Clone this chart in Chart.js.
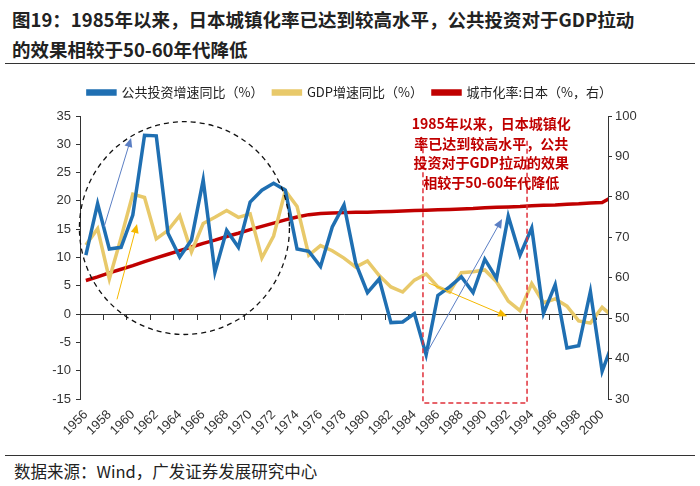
<!DOCTYPE html>
<html>
<head>
<meta charset="utf-8">
<script src="https://cdn.jsdelivr.net/npm/chart.js@4.4.0/dist/chart.umd.min.js"></script>
<style>
  body { margin: 0; width: 700px; height: 486px; background: #fff; position: relative; overflow: hidden;
         font-family: "Noto Sans CJK SC", sans-serif; }
  #title { position: absolute; left: 12px; top: 4px; font-size: 18.5px; font-weight: bold; line-height: 30px; color: #222; }
  .rule { position: absolute; left: 5px; width: 690px; height: 0; border-top: 1.5px solid #333; }
  #box { position: absolute; left: 0; top: 70px; width: 700px; height: 372px; }
  #source { position: absolute; left: 14px; top: 459px; font-size: 16.5px; color: #222; }
</style>
</head>
<body>
<div id="title">图19：1985年以来，日本城镇化率已达到较高水平，公共投资对于GDP拉动<br>的效果相较于50-60年代降低</div>
<div class="rule" style="top:63px"></div>
<div id="box"><canvas id="chart" width="700" height="372"></canvas></div>
<div class="rule" style="top:455px"></div>
<div id="source">数据来源：Wind，广发证券发展研究中心</div>

<script>
const years = [1956, 1957, 1958, 1959, 1960, 1961, 1962, 1963, 1964, 1965,
  1966, 1967, 1968, 1969, 1970, 1971, 1972, 1973, 1974, 1975,
  1976, 1977, 1978, 1979, 1980, 1981, 1982, 1983, 1984, 1985,
  1986, 1987, 1988, 1989, 1990, 1991, 1992, 1993, 1994, 1995,
  1996, 1997, 1998, 1999, 2000, 2001];

// 公共投资增速同比（%）
const investGrowth = [10.4, 19.5, 11.5, 11.8, 17.5, 31.6, 31.5, 14.3, 10.1, 13.1,
  23.7, 7.4, 14.8, 11.8, 19.8, 21.9, 23.1, 21.9, 11.5, 11.1,
  8.4, 15.4, 19.3, 9.0, 3.8, 6.2, -1.5, -1.4, 0.1, -7.2,
  3.3, 4.8, 6.6, 3.8, 9.7, 6.3, 17.3, 10.4, 15.2, 0.1,
  5.2, -6.0, -5.6, 4.0, -10.1, -4.5];

// GDP增速同比（%）
const gdpGrowth = [12.2, 15.1, 6.2, 13.5, 21.2, 20.6, 13.3, 14.8, 17.4, 11.0,
  16.0, 17.1, 18.3, 17.1, 17.7, 9.9, 13.8, 21.8, 19.0, 10.4,
  12.1, 11.2, 9.9, 8.3, 9.4, 6.8, 4.8, 3.9, 6.0, 7.1,
  4.8, 3.9, 7.3, 7.5, 7.8, 5.7, 2.3, 0.6, 5.4, 2.0,
  2.7, 1.4, -1.2, -1.6, 1.2, -0.6];

// 城市化率:日本（%，右）
const urbanRate = [59.3, 60.2, 61.2, 62.1, 63.0, 64.0, 64.9, 65.8, 66.7, 67.6,
  68.5, 69.3, 70.2, 71.0, 71.9, 72.7, 73.5, 74.3, 75.0, 75.6,
  75.9, 76.0, 76.1, 76.2, 76.2, 76.3, 76.4, 76.5, 76.6, 76.7,
  76.8, 76.9, 77.0, 77.1, 77.3, 77.4, 77.5, 77.6, 77.8, 77.9,
  78.0, 78.2, 78.3, 78.5, 78.6, 80.2];

const xTickYears = [1956, 1958, 1960, 1962, 1964, 1966, 1968, 1970, 1972, 1974, 1976,
  1978, 1980, 1982, 1984, 1986, 1988, 1990, 1992, 1994, 1996, 1998, 2000];
const leftTicks = [-15, -10, -5, 0, 5, 10, 15, 20, 25, 30, 35];
const rightTicks = [30, 40, 50, 60, 70, 80, 90, 100];

const noteLines = ["1985年以来，日本城镇化", "率已达到较高水平，公共", "投资对于GDP拉动的效果", "相较于50-60年代降低"];

const blue = "#1f6fb2";
const gold = "#e8c96a";
const red = "#c00000";
const tickFont = { family: "'Liberation Sans', Arial, sans-serif", size: 13 };

function points(vals) {
  return years.map((yr, i) => ({ x: yr, y: vals[i] }));
}

function arrow(ctx, x1, y1, x2, y2, color) {
  const a = Math.atan2(y2 - y1, x2 - x1);
  ctx.strokeStyle = color;
  ctx.fillStyle = color;
  ctx.lineWidth = 1;
  ctx.setLineDash([]);
  ctx.beginPath();
  ctx.moveTo(x1, y1);
  ctx.lineTo(x2 - 6 * Math.cos(a), y2 - 6 * Math.sin(a));
  ctx.stroke();
  ctx.beginPath();
  ctx.moveTo(x2, y2);
  ctx.lineTo(x2 - 9 * Math.cos(a) + 4 * Math.sin(a), y2 - 9 * Math.sin(a) - 4 * Math.cos(a));
  ctx.lineTo(x2 - 9 * Math.cos(a) - 4 * Math.sin(a), y2 - 9 * Math.sin(a) + 4 * Math.cos(a));
  ctx.closePath();
  ctx.fill();
}

// a little more room under the legend
const legendGap = {
  id: "legendGap",
  beforeInit(chart) {
    const fit = chart.legend.fit;
    chart.legend.fit = function () {
      fit.bind(chart.legend)();
      this.height += 7;
    };
  }
};

// circle, dashed box, arrows and the red note
const annotate = {
  id: "annotate",
  afterDatasetsDraw(chart) {
    const ctx = chart.ctx;
    const x = chart.scales.x;
    const y = chart.scales.y;
    ctx.save();

    // dashed circle round the 1956-1973 years
    const cx = x.getPixelForValue(1964.4), cy = y.getPixelForValue(15.2);
    const rx = x.getPixelForValue(1964.4 + 8.95) - cx;
    const ry = cy - y.getPixelForValue(15.2 + 18.8);
    ctx.strokeStyle = "#111";
    ctx.lineWidth = 1.3;
    ctx.setLineDash([5, 4]);
    ctx.beginPath();
    ctx.ellipse(cx, cy, rx, ry, 0, 0, Math.PI * 2);
    ctx.stroke();

    // dashed red box 1985-1993
    const bl = x.getPixelForValue(1984.73), br = x.getPixelForValue(1993.6);
    const bt = y.getPixelForValue(30.7), bb = y.getPixelForValue(-15.7);
    ctx.strokeStyle = "#e0303a";
    ctx.lineWidth = 1.5;
    ctx.setLineDash([5, 3]);
    ctx.beginPath();
    ctx.moveTo(bl, bt);
    ctx.lineTo(bl, bb);
    ctx.lineTo(br, bb);
    ctx.lineTo(br, bt);
    ctx.stroke();

    arrow(ctx, x.getPixelForValue(1957.55), y.getPixelForValue(15.4), x.getPixelForValue(1959.85), y.getPixelForValue(31.1), "#5b7fc4");
    arrow(ctx, x.getPixelForValue(1958.65), y.getPixelForValue(2.6), x.getPixelForValue(1960.36), y.getPixelForValue(15.9), "#f5b800");
    arrow(ctx, x.getPixelForValue(1985.1), y.getPixelForValue(-6.7), x.getPixelForValue(1991.47), y.getPixelForValue(16.8), "#5b7fc4");
    arrow(ctx, x.getPixelForValue(1985.2), y.getPixelForValue(5.5), x.getPixelForValue(1991.9), y.getPixelForValue(-0.4), "#f5b800");

    ctx.fillStyle = red;
    ctx.font = "bold 14px 'Noto Sans CJK SC', sans-serif";
    ctx.textAlign = "center";
    ctx.textBaseline = "middle";
    const tx = x.getPixelForValue(1990.55);
    for (let i = 0; i < noteLines.length; i++) {
      ctx.fillText(noteLines[i], tx, y.getPixelForValue(33.6) + i * 19.6);
    }
    ctx.restore();
  }
};

new Chart("chart", {
  type: "line",
  data: {
    datasets: [
      { label: "公共投资增速同比（%）", data: points(investGrowth), borderColor: blue, backgroundColor: blue,
        borderWidth: 3.5, pointRadius: 0, yAxisID: "y", xAxisID: "x" },
      { label: "GDP增速同比（%）", data: points(gdpGrowth), borderColor: gold, backgroundColor: gold,
        borderWidth: 3.5, pointRadius: 0, yAxisID: "y", xAxisID: "x" },
      { label: "城市化率:日本（%，右）", data: points(urbanRate), borderColor: red, backgroundColor: red,
        borderWidth: 3.5, pointRadius: 0, yAxisID: "y1", xAxisID: "x" }
    ]
  },
  options: {
    responsive: false,
    animation: false,
    layout: { padding: { top: 6, bottom: 3, left: 0, right: 0 } },
    plugins: {
      legend: {
        labels: { boxWidth: 27, boxHeight: 3, padding: 10, color: "#222",
                  font: { family: "'Noto Sans CJK SC', sans-serif", size: 13 } }
      },
      tooltip: { enabled: false }
    },
    scales: {
      x: {
        type: "linear", position: "bottom", min: 1955.5, max: 2000.5,
        afterBuildTicks: s => { s.ticks = xTickYears.map(v => ({ value: v })); },
        afterFit: s => { s.height = 40; },
        grid: { display: false },
        border: { display: false },
        ticks: { autoSkip: false, minRotation: 45, maxRotation: 45, padding: 0, color: "#333", font: tickFont,
                 callback: v => String(v) }
      },
      x0: {
        type: "linear", position: { y: 0 }, min: 1955.5, max: 2000.5,
        afterBuildTicks: s => { s.ticks = xTickYears.map(v => ({ value: v - 0.5 })); },
        grid: { drawOnChartArea: false, tickLength: 5, color: "#333" },
        border: { color: "#333", width: 1 },
        ticks: { display: false }
      },
      y: {
        position: "left", min: -15, max: 35,
        afterBuildTicks: s => { s.ticks = leftTicks.map(v => ({ value: v })); },
        afterFit: s => { s.width = 80; },
        grid: { drawOnChartArea: false, tickLength: 4, color: "#333" },
        border: { color: "#333", width: 1 },
        ticks: { padding: 5, color: "#333", font: tickFont }
      },
      y1: {
        position: "right", min: 30, max: 100,
        afterBuildTicks: s => { s.ticks = rightTicks.map(v => ({ value: v })); },
        afterFit: s => { s.width = 92; },
        grid: { drawOnChartArea: false, tickLength: 4, color: "#333" },
        border: { color: "#333", width: 1 },
        ticks: { padding: 3, color: "#333", font: tickFont }
      }
    }
  },
  plugins: [legendGap, annotate]
});
</script>
</body>
</html>
